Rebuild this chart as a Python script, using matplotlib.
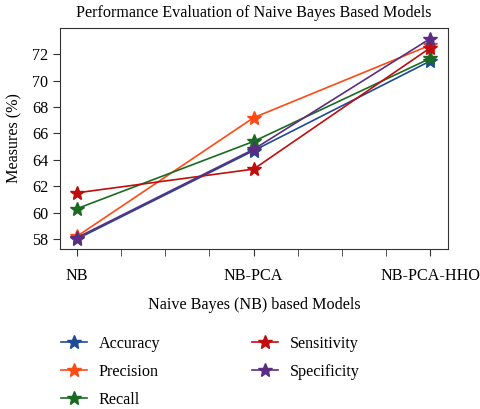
import matplotlib
matplotlib.use("Agg")
import matplotlib.pyplot as plt
from matplotlib.ticker import MultipleLocator

plt.rcParams['font.family'] = ['Liberation Serif', 'DejaVu Serif']

models = ["NB", "NB-PCA", "NB-PCA-HHO"]
accuracy = [58.0, 64.7, 71.5]
precision = [58.2, 67.2, 72.7]
recall = [60.3, 65.4, 71.7]
sensitivity = [61.5, 63.3, 72.5]
specificity = [58.1, 64.8, 73.2]
yticks = [58, 60, 62, 64, 66, 68, 70, 72]

series = [
    ("Accuracy", accuracy, "#1f4a96"),
    ("Precision", precision, "#ff4a14"),
    ("Recall", recall, "#1a6b22"),
    ("Sensitivity", sensitivity, "#c00d0d"),
    ("Specificity", specificity, "#5a2d82"),
]

fs = 11.6
fig = plt.figure(figsize=(4.81, 4.09), dpi=100)
ax = fig.add_axes([60/481, 1-249/409, (448-60)/481, (249-28)/409])
x = list(range(len(models)))
for name, vals, c in series:
    ax.plot(x, vals, color=c, marker='*', markersize=10, linewidth=1.2, label=name)

ax.set_xlim(-0.096, 2.1)
ax.set_ylim(57.24, 74.0)
ax.set_xticks(x)
ax.set_xticklabels(models, fontsize=fs)
ax.xaxis.set_minor_locator(MultipleLocator(0.25))
ax.set_yticks(yticks)
ax.set_yticklabels([str(v) for v in yticks], fontsize=fs)
ax.tick_params(axis='both', which='both', direction='out', length=5, color='#333333')
ax.tick_params(axis='x', which='major', pad=9)
for s in ax.spines.values():
    s.set_color('#333333')
ax.set_ylabel("Measures (%)", fontsize=fs, labelpad=7)
ax.set_xlabel("Naive Bayes (NB) based Models", fontsize=fs, labelpad=9)
ax.set_title("Performance Evaluation of Naive Bayes Based Models", fontsize=fs, pad=8)

handles, labels = ax.get_legend_handles_labels()
fig.legend(handles, labels, loc='upper left', bbox_to_anchor=(46/481, 1-321/409),
           ncol=2, frameon=False, fontsize=fs, columnspacing=5.7, handlelength=1.65,
           handletextpad=0.7, labelspacing=0.75)

fig.savefig("out.png", dpi=100)
